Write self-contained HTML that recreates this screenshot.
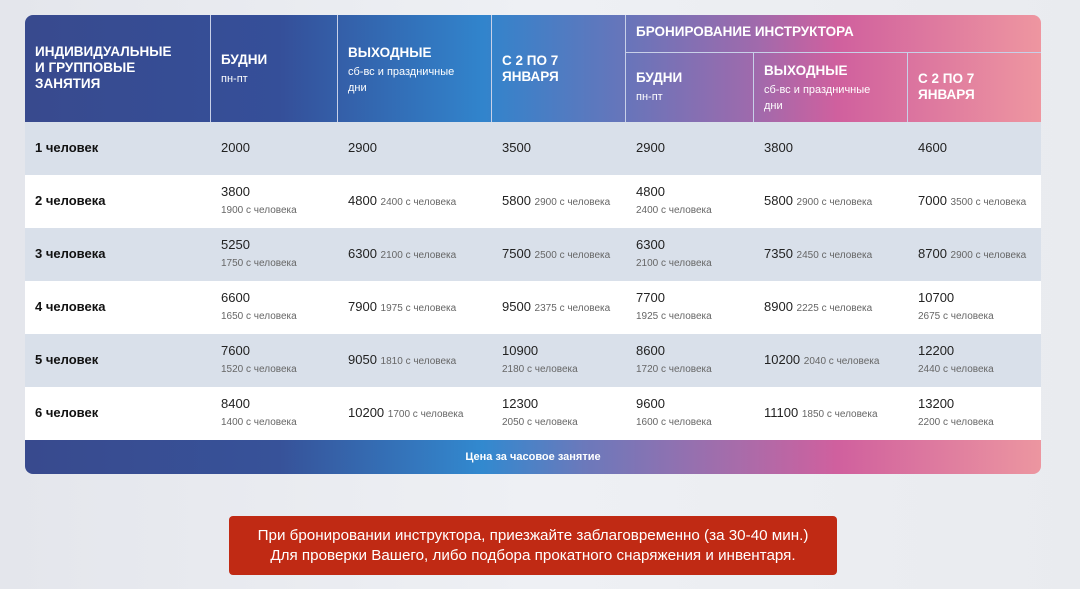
<!DOCTYPE html>
<html><head><meta charset="utf-8"><style>
*{margin:0;padding:0;box-sizing:border-box}
body{width:1080px;height:589px;overflow:hidden;background:linear-gradient(90deg,#e4e6ec,#eef0f4 50%,#e9ebef);font-family:"Liberation Sans",sans-serif;position:relative}
.hdr{position:absolute;left:25px;top:15px;width:1016px;height:107px;border-radius:8px 8px 0 0;background:linear-gradient(90deg,#384a8e 0%,#354f99 25%,#3184cc 45%,#6b74b9 60%,#a06aac 72%,#d0609e 80%,#ee96a0 100%)}
.ft{position:absolute;left:25px;top:440px;width:1016px;height:34px;border-radius:0 0 8px 8px;background:linear-gradient(90deg,#384a8e 0%,#375299 25%,#3289cf 45%,#6b79bb 55%,#a76caa 70%,#d0609e 80%,#ec96a0 100%);color:#fff;font-weight:bold;font-size:11px;text-align:center;line-height:34px}
.vl{position:absolute;width:1px;background:#c8d0e8}
.hl{position:absolute;height:1px;background:#c8d0e8}
.h{position:absolute;color:#fff;font-weight:bold;font-size:13.5px;line-height:16px}
.h small{display:block;font-weight:normal;font-size:11px;line-height:16px;margin-top:3px}
.row{position:absolute;left:25px;width:1016px;height:53px}
.c{position:absolute;font-size:13px;color:#222;line-height:17px}
.c b{color:#111}
.c s{text-decoration:none;font-size:10px;color:#666}
.note{position:absolute;left:229px;top:516px;width:608px;height:59px;background:#c02a14;border-radius:4px;color:#fff;font-size:15.2px;text-align:center;line-height:20px;padding-top:10px}
</style></head><body>
<div class="hdr"></div>
<div class="vl" style="left:210px;top:15px;height:107px"></div>
<div class="vl" style="left:337px;top:15px;height:107px"></div>
<div class="vl" style="left:491px;top:15px;height:107px"></div>
<div class="vl" style="left:625px;top:15px;height:107px"></div>
<div class="vl" style="left:753px;top:52px;height:70px"></div>
<div class="vl" style="left:907px;top:52px;height:70px"></div>
<div class="hl" style="left:625px;top:52px;width:416px"></div>
<div class="h" style="left:35px;top:44px">ИНДИВИДУАЛЬНЫЕ<br>И ГРУППОВЫЕ<br>ЗАНЯТИЯ</div>
<div class="h" style="left:221px;top:52px">БУДНИ<small>пн-пт</small></div>
<div class="h" style="left:348px;top:45px">ВЫХОДНЫЕ<small>сб-вс и праздничные<br>дни</small></div>
<div class="h" style="left:502px;top:53px">С 2 ПО 7<br>ЯНВАРЯ</div>
<div class="h" style="left:636px;top:24px">БРОНИРОВАНИЕ ИНСТРУКТОРА</div>
<div class="h" style="left:636px;top:70px">БУДНИ<small>пн-пт</small></div>
<div class="h" style="left:764px;top:63px">ВЫХОДНЫЕ<small>сб-вс и праздничные<br>дни</small></div>
<div class="h" style="left:918px;top:71px">С 2 ПО 7<br>ЯНВАРЯ</div>

<div class="row" style="top:122px;background:#d9e0ea"></div>
<div class="row" style="top:175px;background:#fff"></div>
<div class="row" style="top:228px;background:#d9e0ea"></div>
<div class="row" style="top:281px;background:#fff"></div>
<div class="row" style="top:334px;background:#d9e0ea"></div>
<div class="row" style="top:387px;background:#fff;height:53px"></div>

<div class="c" style="left:35px;top:139px"><b>1 человек</b></div>
<div class="c" style="left:221px;top:139px">2000</div>
<div class="c" style="left:348px;top:139px">2900</div>
<div class="c" style="left:502px;top:139px">3500</div>
<div class="c" style="left:636px;top:139px">2900</div>
<div class="c" style="left:764px;top:139px">3800</div>
<div class="c" style="left:918px;top:139px">4600</div>

<div class="c" style="left:35px;top:192px"><b>2 человека</b></div>
<div class="c" style="left:221px;top:183px">3800<br><s>1900 с человека</s></div>
<div class="c" style="left:348px;top:192px">4800 <s>2400 с человека</s></div>
<div class="c" style="left:502px;top:192px">5800 <s>2900 с человека</s></div>
<div class="c" style="left:636px;top:183px">4800<br><s>2400 с человека</s></div>
<div class="c" style="left:764px;top:192px">5800 <s>2900 с человека</s></div>
<div class="c" style="left:918px;top:192px">7000 <s>3500 с человека</s></div>

<div class="c" style="left:35px;top:245px"><b>3 человека</b></div>
<div class="c" style="left:221px;top:236px">5250<br><s>1750 с человека</s></div>
<div class="c" style="left:348px;top:245px">6300 <s>2100 с человека</s></div>
<div class="c" style="left:502px;top:245px">7500 <s>2500 с человека</s></div>
<div class="c" style="left:636px;top:236px">6300<br><s>2100 с человека</s></div>
<div class="c" style="left:764px;top:245px">7350 <s>2450 с человека</s></div>
<div class="c" style="left:918px;top:245px">8700 <s>2900 с человека</s></div>

<div class="c" style="left:35px;top:298px"><b>4 человека</b></div>
<div class="c" style="left:221px;top:289px">6600<br><s>1650 с человека</s></div>
<div class="c" style="left:348px;top:298px">7900 <s>1975 с человека</s></div>
<div class="c" style="left:502px;top:298px">9500 <s>2375 с человека</s></div>
<div class="c" style="left:636px;top:289px">7700<br><s>1925 с человека</s></div>
<div class="c" style="left:764px;top:298px">8900 <s>2225 с человека</s></div>
<div class="c" style="left:918px;top:289px">10700<br><s>2675 с человека</s></div>

<div class="c" style="left:35px;top:351px"><b>5 человек</b></div>
<div class="c" style="left:221px;top:342px">7600<br><s>1520 с человека</s></div>
<div class="c" style="left:348px;top:351px">9050 <s>1810 с человека</s></div>
<div class="c" style="left:502px;top:342px">10900<br><s>2180 с человека</s></div>
<div class="c" style="left:636px;top:342px">8600<br><s>1720 с человека</s></div>
<div class="c" style="left:764px;top:351px">10200 <s>2040 с человека</s></div>
<div class="c" style="left:918px;top:342px">12200<br><s>2440 с человека</s></div>

<div class="c" style="left:35px;top:404px"><b>6 человек</b></div>
<div class="c" style="left:221px;top:395px">8400<br><s>1400 с человека</s></div>
<div class="c" style="left:348px;top:404px">10200 <s>1700 с человека</s></div>
<div class="c" style="left:502px;top:395px">12300<br><s>2050 с человека</s></div>
<div class="c" style="left:636px;top:395px">9600<br><s>1600 с человека</s></div>
<div class="c" style="left:764px;top:404px">11100 <s>1850 с человека</s></div>
<div class="c" style="left:918px;top:395px">13200<br><s>2200 с человека</s></div>

<div class="ft">Цена за часовое занятие</div>
<div class="note">При бронировании инструктора, приезжайте заблаговременно (за 30-40 мин.)<br>Для проверки Вашего, либо подбора прокатного снаряжения и инвентаря.</div>
</body></html>
